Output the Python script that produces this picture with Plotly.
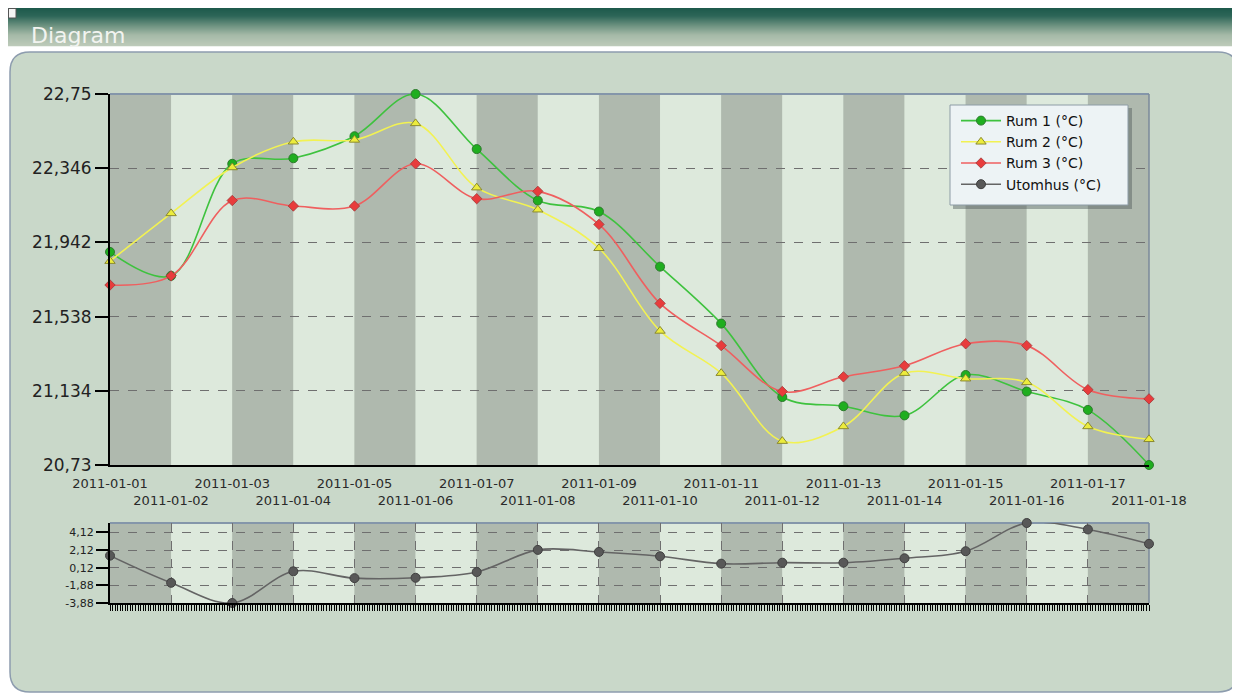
import plotly.graph_objects as go

# page is 1240x693 but the browser body adds an 8px margin, so the figure is
# drawn 8px smaller and all layout positions are given in page pixels.
OFF = 8
W, H = 1240 - OFF, 693 - OFF

dates = ["2011-01-01", "2011-01-02", "2011-01-03", "2011-01-04", "2011-01-05", "2011-01-06",
         "2011-01-07", "2011-01-08", "2011-01-09", "2011-01-10", "2011-01-11", "2011-01-12",
         "2011-01-13", "2011-01-14", "2011-01-15", "2011-01-16", "2011-01-17", "2011-01-18"]

rum1 = [21.89, 21.76, 22.37, 22.40, 22.52, 22.75, 22.45, 22.17, 22.11, 21.81, 21.50, 21.10,
        21.05, 21.00, 21.22, 21.13, 21.03, 20.73]
rum2 = [21.84, 22.10, 22.35, 22.49, 22.50, 22.59, 22.24, 22.12, 21.91, 21.46, 21.23, 20.86,
        20.94, 21.23, 21.20, 21.18, 20.94, 20.87]
rum3 = [21.71, 21.76, 22.17, 22.14, 22.14, 22.37, 22.18, 22.22, 22.04, 21.61, 21.38, 21.13,
        21.21, 21.27, 21.39, 21.38, 21.14, 21.09]
utomhus = [1.49, -1.59, -3.88, -0.29, -1.06, -1.02, -0.37, 2.14, 1.91, 1.42, 0.58, 0.69,
           0.69, 1.19, 1.99, 5.19, 4.46, 2.83]

main_ticks = [20.73, 21.134, 21.538, 21.942, 22.346, 22.75]
main_ticktext = ["20,73", "21,134", "21,538", "21,942", "22,346", "22,75"]
low_ticks = [-3.88, -1.88, 0.12, 2.12, 4.12]
low_ticktext = ["-3,88", "-1,88", "0,12", "2,12", "4,12"]

names = ["Rum 1 (°C)", "Rum 2 (°C)", "Rum 3 (°C)", "Utomhus (°C)"]


def px(x):
    return (x - OFF) / W


def py(y):
    return 1 - (y - OFF) / H


fig = go.Figure()

line_w = 1.6
fig.add_trace(go.Scatter(x=dates, y=rum1, name=names[0], mode="lines+markers",
                         line=dict(color="#3ec23e", width=line_w, shape="spline"),
                         marker=dict(symbol="circle", size=9, color="#1fae1f",
                                     line=dict(color="#2d7a2d", width=1)),
                         cliponaxis=False, xaxis="x", yaxis="y"))
fig.add_trace(go.Scatter(x=dates, y=rum2, name=names[1], mode="lines+markers",
                         line=dict(color="#f2f252", width=line_w, shape="spline"),
                         marker=dict(symbol="triangle-up", size=9, color="#ecec3c",
                                     line=dict(color="#8a8a30", width=1)),
                         cliponaxis=False, xaxis="x", yaxis="y"))
fig.add_trace(go.Scatter(x=dates, y=rum3, name=names[2], mode="lines+markers",
                         line=dict(color="#ef5f5f", width=line_w, shape="spline"),
                         marker=dict(symbol="diamond", size=8, color="#e83c3c",
                                     line=dict(color="#a03a3a", width=0.8)),
                         cliponaxis=False, xaxis="x", yaxis="y"))
fig.add_trace(go.Scatter(x=dates, y=utomhus, name=names[3], mode="lines+markers",
                         line=dict(color="#646464", width=1.6, shape="spline"),
                         marker=dict(symbol="circle", size=9, color="#585858",
                                     line=dict(color="#404040", width=1)),
                         cliponaxis=False, xaxis="x2", yaxis="y2"))

shapes = []

# page header gradient strip
stops = [(7, (28, 88, 74)), (16, (45, 102, 88)), (26, (112, 148, 130)),
         (35, (165, 186, 168)), (46, (190, 203, 186))]


def grad(y):
    for (y0, c0), (y1, c1) in zip(stops[:-1], stops[1:]):
        if y0 <= y <= y1:
            t = (y - y0) / (y1 - y0)
            return "rgb(%d,%d,%d)" % tuple(int(c0[k] + (c1[k] - c0[k]) * t) for k in range(3))
    return "rgb(%d,%d,%d)" % stops[-1][1]


for yy in range(8, 46):
    shapes.append(dict(type="rect", xref="paper", yref="paper", x0=px(8), x1=px(1240),
                       y0=py(yy + 1.2), y1=py(yy), fillcolor=grad(yy + 0.5),
                       line=dict(width=0), layer="below"))

# rounded panel
x0p, x1p, y0p, y1p, r = 10, 1238, 52, 692, 20
path = ("M {a},{b} L {c},{b} Q {d},{b} {d},{e} L {d},{f} Q {d},{g} {c},{g} "
        "L {a},{g} Q {h},{g} {h},{f} L {h},{e} Q {h},{b} {a},{b} Z").format(
    a=px(x0p + r), b=py(y0p), c=px(x1p - r), d=px(x1p), e=py(y0p + r),
    f=py(y1p - r), g=py(y1p), h=px(x0p))
shapes.append(dict(type="path", xref="paper", yref="paper", path=path,
                   fillcolor="#c9d8c9", line=dict(color="#8d9cae", width=1.5), layer="below"))

# alternating day bands
dark, light = "#afb9ae", "#dde9dc"
for i in range(len(dates) - 1):
    for xr, yr in (("x", "y domain"), ("x2", "y2 domain")):
        shapes.append(dict(type="rect", xref=xr, yref=yr, x0=dates[i], x1=dates[i + 1],
                           y0=0, y1=1, fillcolor=dark if i % 2 == 0 else light,
                           line=dict(width=0), layer="below"))

# top / right borders of plot areas
for (xa, xb, ya, yb) in ((110, 1149, 94, 465), (110, 1149, 523, 603)):
    shapes.append(dict(type="line", xref="paper", yref="paper", x0=px(xa), x1=px(xb),
                       y0=py(ya), y1=py(ya), line=dict(color="#8496aa", width=2),
                       layer="below"))
    shapes.append(dict(type="line", xref="paper", yref="paper", x0=px(xb), x1=px(xb),
                       y0=py(ya), y1=py(yb), line=dict(color="#7b8a9a", width=1.5),
                       layer="below"))

# legend box with shadow
shapes.append(dict(type="rect", xref="paper", yref="paper", x0=px(953), x1=px(1132),
                   y0=py(209), y1=py(108), fillcolor="rgba(80,90,90,0.45)",
                   line=dict(width=0), layer="above"))
shapes.append(dict(type="rect", xref="paper", yref="paper", x0=px(950), x1=px(1128),
                   y0=py(205), y1=py(105), fillcolor="#edf3f5",
                   line=dict(color="#8d9ca6", width=1), layer="above"))

# small icon box
shapes.append(dict(type="rect", xref="paper", yref="paper", x0=px(8.5), x1=px(16),
                   y0=py(18), y1=py(8.5), fillcolor="#f4f4f4",
                   line=dict(color="#555", width=1), layer="above"))

annotations = [
    dict(text="Diagram", xref="paper", yref="paper", x=px(29), y=py(35), xanchor="left",
         yanchor="middle", showarrow=False,
         font=dict(family="DejaVu Sans", size=22, color="#f2f4f0")),
]

ticktext_x = [d if i % 2 == 0 else "<br>" + d for i, d in enumerate(dates)]

axis_font = dict(family="DejaVu Sans", size=13, color="#2a2a2a")

fig.update_layout(
    width=W, height=H, margin=dict(l=0, r=0, t=0, b=0, autoexpand=False),
    paper_bgcolor="white", plot_bgcolor="rgba(0,0,0,0)",
    showlegend=True,
    shapes=shapes, annotations=annotations,
    xaxis=dict(domain=[px(110), px(1149)], type="date", range=[dates[0], dates[-1]],
               tickvals=dates, ticktext=ticktext_x, tickfont=axis_font, tickangle=0,
               ticks="outside", ticklen=5, tickcolor="rgba(0,0,0,0)",
               showgrid=False, zeroline=False, automargin=False,
               showline=True, linecolor="#000", linewidth=2, anchor="y"),
    yaxis=dict(domain=[py(465), py(94)], range=[20.73, 22.75],
               tickvals=main_ticks, ticktext=main_ticktext, automargin=False,
               tickfont=dict(family="DejaVu Sans", size=17, color="#222"),
               ticks="outside", ticklen=13, tickwidth=2, tickcolor="#000",
               showgrid=True, gridcolor="#6f6f6f", griddash="dash", gridwidth=1,
               zeroline=False, showline=True, linecolor="#000", linewidth=2, anchor="x"),
    xaxis2=dict(domain=[px(110), px(1149)], type="date", range=[dates[0], dates[-1]],
                showticklabels=False, ticks="outside", ticklen=6, tickcolor="#000",
                dtick=86400000, tick0=dates[0], automargin=False,
                minor=dict(dtick=3600000, ticks="outside", ticklen=6, tickcolor="#000",
                           tickwidth=1, showgrid=False),
                showgrid=True, gridcolor="#6f6f6f", griddash="dash", gridwidth=1,
                zeroline=False, showline=True, linecolor="#000", linewidth=2, anchor="y2"),
    yaxis2=dict(domain=[py(603), py(523)], range=[-3.88, 5.19],
                tickvals=low_ticks, ticktext=low_ticktext, automargin=False,
                tickfont=dict(family="DejaVu Sans", size=11, color="#222"),
                ticks="outside", ticklen=12, tickwidth=2, tickcolor="#000",
                showgrid=True, gridcolor="#6f6f6f", griddash="dash", gridwidth=1,
                zeroline=False, showline=True, linecolor="#000", linewidth=2, anchor="x2"),
    legend=dict(x=px(956), y=py(105), xanchor="left", yanchor="top",
                bgcolor="rgba(0,0,0,0)", borderwidth=0, itemwidth=40,
                font=dict(family="DejaVu Sans", size=14, color="#111"),
                tracegroupgap=0),
)

fig.write_html("out.html")
